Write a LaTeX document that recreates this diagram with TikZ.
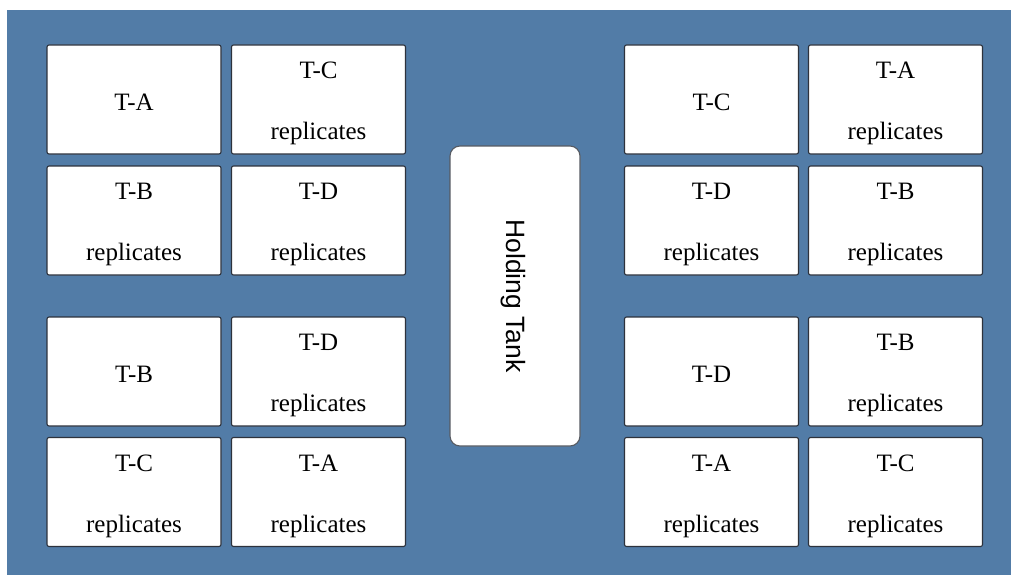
\documentclass[tikz,border=0pt]{standalone}
\usepackage{fontspec}
\setmainfont{Liberation Serif}
\newfontfamily\tanksans{Liberation Sans}
\definecolor{poolblue}{RGB}{82,124,167}
\definecolor{edgegray}{RGB}{45,50,60}
\begin{document}
\begin{tikzpicture}[x=1pt,y=-1pt,
  tray/.style={draw=edgegray,line width=1.1pt,fill=white,rounded corners=2pt,
    minimum width=174pt,minimum height=109pt,inner sep=0pt},
  tank/.style={draw=edgegray!80,line width=1.1pt,fill=white,rounded corners=10pt,
    minimum width=130pt,minimum height=300pt,inner sep=0pt},
  lbl/.style={anchor=base,inner sep=0pt,font=\fontsize{25}{30}\selectfont}]
\useasboundingbox (0,0) rectangle (1011,575);
\fill[poolblue] (7,10) rectangle (1011,575);

% one tray: name, centre, treatment, with/without replicates line
\newcommand\singletray[3]{%
  \node[tray] (#1) at (#2) {};
  \node[lbl] (#1-t) at ([yshift=-11pt]#1.center) {#3};}
\newcommand\reptray[3]{%
  \node[tray] (#1) at (#2) {};
  \node[lbl] (#1-t) at ([yshift=21pt]#1.center) {#3};
  \node[lbl] (#1-r) at ([yshift=-40pt]#1.center) {replicates};}

% upper left block
\singletray{a1}{134,99.5}{T-A}
\reptray{a2}{318.5,99.5}{T-C}
\reptray{a3}{134,220.5}{T-B}
\reptray{a4}{318.5,220.5}{T-D}
% lower left block
\singletray{b1}{134,371.5}{T-B}
\reptray{b2}{318.5,371.5}{T-D}
\reptray{b3}{134,492}{T-C}
\reptray{b4}{318.5,492}{T-A}
% upper right block
\singletray{c1}{711.5,99.5}{T-C}
\reptray{c2}{895.5,99.5}{T-A}
\reptray{c3}{711.5,220.5}{T-D}
\reptray{c4}{895.5,220.5}{T-B}
% lower right block
\singletray{d1}{711.5,371.5}{T-D}
\reptray{d2}{895.5,371.5}{T-B}
\reptray{d3}{711.5,492}{T-A}
\reptray{d4}{895.5,492}{T-C}

% holding tank in the middle
\node[tank] (tank) at (515,296) {};
\node[rotate=-90,inner sep=0pt,font=\tanksans\fontsize{26.5}{30}\selectfont] (tank-t) at ([xshift=-2pt]tank.center) {Holding Tank};
\end{tikzpicture}
\end{document}
